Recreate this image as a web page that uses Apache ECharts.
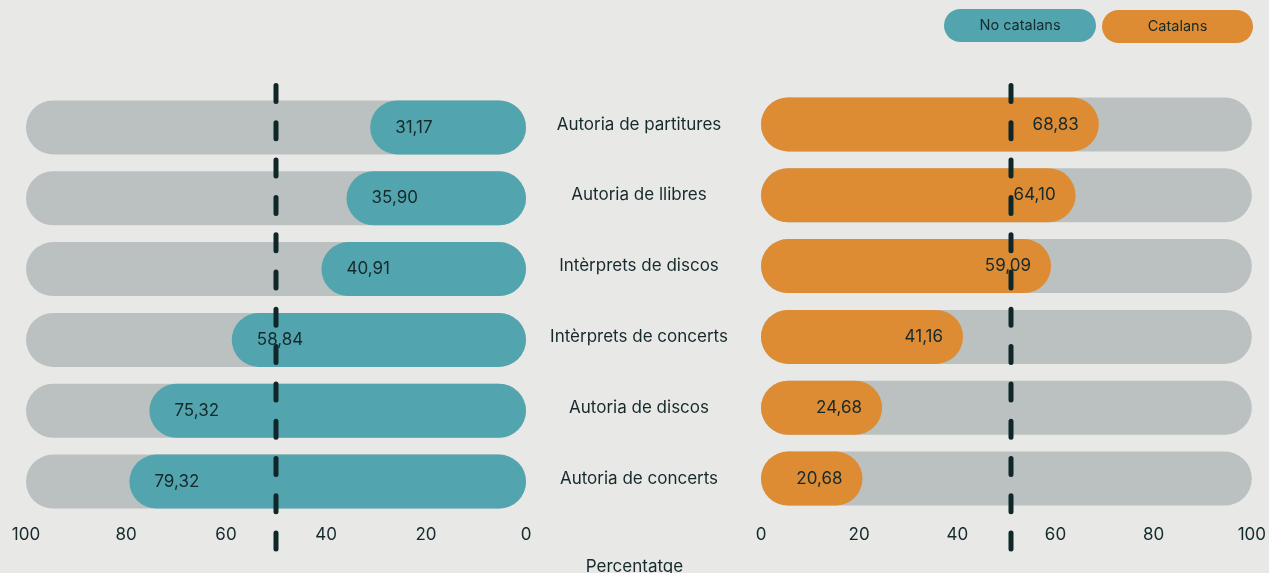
<!DOCTYPE html>
<html>
<head>
<meta charset="utf-8">
<script src="https://cdn.jsdelivr.net/npm/echarts@6/dist/echarts.min.js"></script>
<style>
html,body{margin:0;padding:0;background:#e8e8e6;}
#chart{width:1269px;height:573px;}
</style>
</head>
<body>
<div id="chart"></div>
<script>
const categories = ['Autoria de partitures','Autoria de llibres','Intèrprets de discos','Intèrprets de concerts','Autoria de discos','Autoria de concerts'];
const noCatalans = [31.17, 35.90, 40.91, 58.84, 75.32, 79.32];
const catalans = [68.83, 64.10, 59.09, 41.16, 24.68, 20.68];
const referenceValue = 50;
const seriesNames = ['No catalans', 'Catalans'];
const axisTitle = 'Percentatge';

const TEAL = '#52a5ae', ORANGE = '#dd8c33', GRAY = '#bbc1c0', DARK = '#16292b';
const FONT = 'Inter, "Noto Sans", sans-serif';
const FS = 17;
const fmt = v => v.toFixed(2).replace('.', ',');

const chart = echarts.init(document.getElementById('chart'), null, {renderer: 'canvas'});

const xBase = (grid, inverse, show, margin) => ({
  type: 'value', gridIndex: grid, min: 0, max: 100, interval: 20, inverse: inverse, show: true,
  axisLine: {show: false}, axisTick: {show: false}, splitLine: {show: false},
  axisLabel: {show: show, fontSize: FS, color: DARK, fontFamily: FONT, margin: margin}
});

const dashLine = (xi, yi) => ({
  type: 'line', xAxisIndex: xi, yAxisIndex: yi, z: 5, symbol: 'none', silent: true,
  data: [[referenceValue, 1], [referenceValue, 0]],
  lineStyle: {color: '#0f2729', width: 5, type: [16, 21.3], cap: 'round', dashOffset: 0}
});

chart.setOption({
  backgroundColor: '#e8e8e6',
  animation: false,
  textStyle: {fontFamily: FONT},
  title: {text: axisTitle, left: 'center', top: 553, textStyle: {fontSize: FS, fontWeight: 'normal', color: DARK, fontFamily: FONT}},
  grid: [
    {left: 26, width: 500, top: 92, height: 425},
    {left: 761, width: 500, top: 89, height: 425},
    {left: 26, width: 500, top: 85.5, height: 465},
    {left: 761, width: 500, top: 85.5, height: 465}
  ],
  xAxis: [
    xBase(0, true, true, 9),
    xBase(1, false, true, 12),
    xBase(2, true, false, 0),
    xBase(3, false, false, 0)
  ],
  yAxis: [
    {type: 'category', gridIndex: 0, inverse: true, data: categories, axisLine: {show: false}, axisTick: {show: false}, axisLabel: {show: false}},
    {type: 'category', gridIndex: 1, inverse: true, data: categories, axisLine: {show: false}, axisTick: {show: false},
      axisLabel: {show: true, align: 'center', margin: 122, fontSize: FS, color: DARK, fontFamily: FONT}},
    {type: 'value', gridIndex: 2, min: 0, max: 1, show: false},
    {type: 'value', gridIndex: 3, min: 0, max: 1, show: false}
  ],
  series: [
    {
      name: seriesNames[0], type: 'bar', xAxisIndex: 0, yAxisIndex: 0, data: noCatalans, barWidth: 54, z: 2,
      itemStyle: {color: TEAL, borderRadius: 27},
      showBackground: true, backgroundStyle: {color: GRAY, borderRadius: 27},
      label: {show: true, position: 'insideLeft', distance: 25, fontSize: FS, color: DARK, fontFamily: FONT, formatter: p => fmt(p.value)}
    },
    {
      name: seriesNames[1], type: 'bar', xAxisIndex: 1, yAxisIndex: 1, data: catalans, barWidth: 54, z: 2,
      itemStyle: {color: ORANGE, borderRadius: 27},
      showBackground: true, backgroundStyle: {color: GRAY, borderRadius: 27},
      label: {show: true, position: 'insideRight', distance: 20, fontSize: FS, color: DARK, fontFamily: FONT, formatter: p => fmt(p.value)}
    },
    dashLine(2, 2),
    dashLine(3, 3)
  ],
  graphic: [
    {type: 'rect', left: 944, top: 9, shape: {width: 152, height: 33, r: 16.5}, style: {fill: TEAL}},
    {type: 'text', x: 1020, y: 25.5, style: {text: seriesNames[0], fontSize: 14.5, fill: DARK, fontFamily: FONT, align: 'center', verticalAlign: 'middle'}},
    {type: 'rect', left: 1102, top: 10, shape: {width: 151, height: 33, r: 16.5}, style: {fill: ORANGE}},
    {type: 'text', x: 1177.5, y: 27, style: {text: seriesNames[1], fontSize: 14.5, fill: DARK, fontFamily: FONT, align: 'center', verticalAlign: 'middle'}}
  ]
});
</script>
</body>
</html>
